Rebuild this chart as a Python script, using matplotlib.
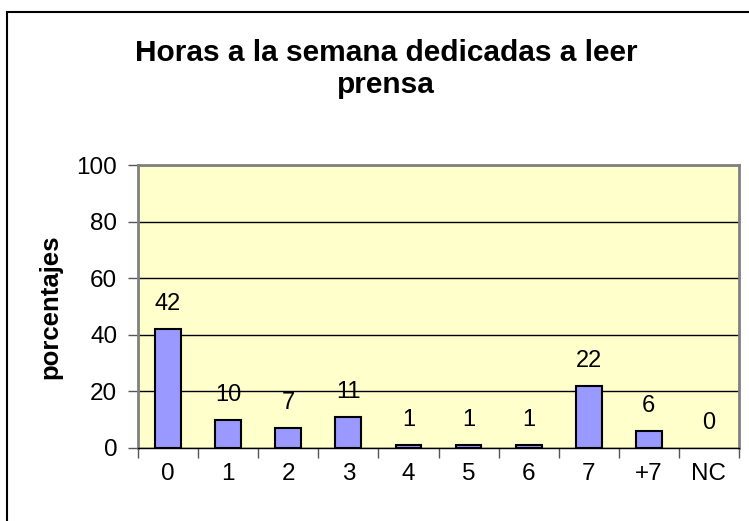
import matplotlib
matplotlib.use("Agg")
import matplotlib.pyplot as plt
from matplotlib.patches import Rectangle
import numpy as np

categories = ["0", "1", "2", "3", "4", "5", "6", "7", "+7", "NC"]
values = [42, 10, 7, 11, 1, 1, 1, 22, 6, 0]
yticks = [0, 20, 40, 60, 80, 100]

plt.rcParams['font.family'] = ['Liberation Sans', 'DejaVu Sans']

fig = plt.figure(figsize=(7.49, 5.21), dpi=100)
ax = fig.add_axes([138/749, 1 - 448/521, (739-138)/749, (448-165)/521])
ax.set_facecolor('#FFFFCC')

x = np.arange(len(categories))
edges = ['black' if v > 0 else 'none' for v in values]
ax.bar(x, values, width=0.43, color='#9999FF', edgecolor=edges, linewidth=1.5, zorder=3)
for xi, v in zip(x, values):
    ax.annotate(str(v), (xi, v), xytext=(0, 10), textcoords='offset points',
                ha='center', va='bottom', fontsize=17, zorder=4)

ax.set_xlim(-0.5, len(categories) - 0.5)
ax.set_ylim(0, 100)
ax.set_yticks(yticks)
ax.set_yticklabels([str(t) for t in yticks], fontsize=17.5)
ax.yaxis.grid(True, color='black', linewidth=1)
ax.set_axisbelow(True)

ax.set_xticks(np.arange(-0.5, len(categories)), minor=False)
ax.set_xticklabels([''] * (len(categories) + 1))
ax.set_xticks(x, minor=True)
ax.set_xticklabels(categories, minor=True, fontsize=17.5)
ax.tick_params(axis='x', which='major', length=7, width=1, direction='out', color='#555555')
ax.tick_params(axis='x', which='minor', length=0, pad=11)
ax.tick_params(axis='y', length=7, width=1, direction='out', pad=8, color='#555555')

for s in ['top', 'right', 'left']:
    ax.spines[s].set_color('#808080')
    ax.spines[s].set_linewidth(2)
ax.spines['bottom'].set_color('black')
ax.spines['bottom'].set_linewidth(1)

ax.set_ylabel('porcentajes', fontsize=18.5, fontweight='bold', labelpad=10)

fig.text(386/749, 1 - 69/521, 'Horas a la semana dedicadas a leer\nprensa',
         ha='center', va='center', fontsize=21.5, fontweight='bold', linespacing=1.2)

fig.patches.append(Rectangle((7/749, -0.05), 1.0, 1 - 12/521 + 0.05, transform=fig.transFigure,
                             fill=False, edgecolor='black', linewidth=1.5))

fig.savefig('out.png', dpi=100)
